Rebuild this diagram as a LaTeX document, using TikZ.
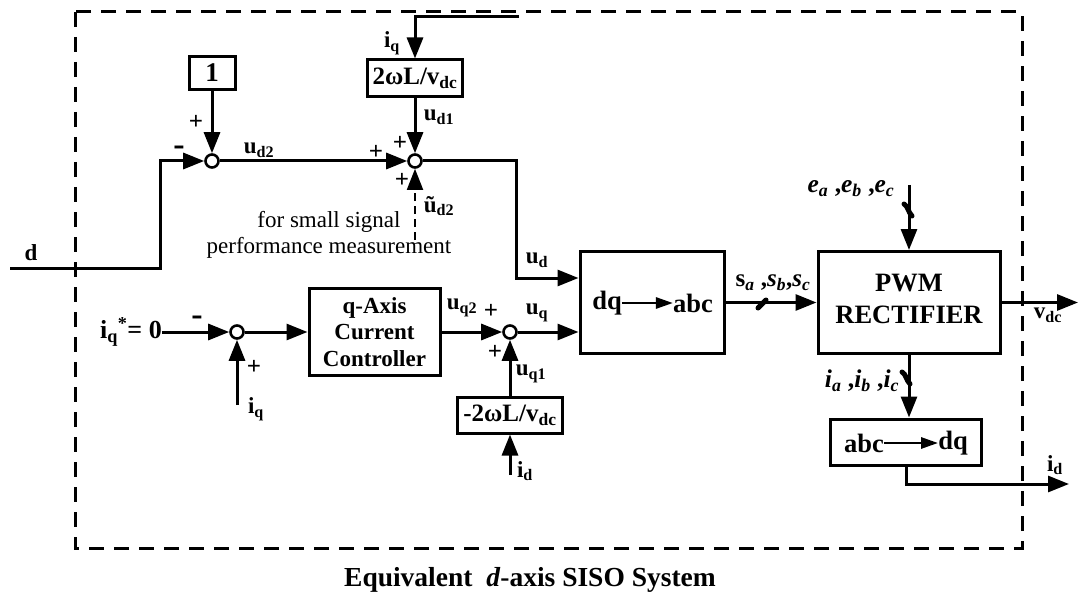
\documentclass[tikz,border=0pt]{standalone}
\usepackage{fontspec}
\setmainfont{Liberation Serif}
\usetikzlibrary{arrows.meta}
\tikzset{
 blk/.style={draw, line width=3pt, inner sep=0pt, font=\fontsize{23}{26.5}\selectfont\bfseries, align=center},
 sumc/.style={draw, circle, line width=2.6pt, minimum size=13pt, inner sep=0pt, fill=white},
 wire/.style={line width=3pt},
 arr/.style={wire, -{Triangle[length=21pt,width=16pt]}},
 arrs/.style={line width=2.8pt, -{Triangle[length=17pt,width=11pt]}},
 lbl/.style={font=\fontsize{23}{26}\selectfont\bfseries, inner sep=0pt},
 big/.style={font=\fontsize{26.5}{32}\selectfont\bfseries, inner sep=0pt, align=center},
 sgn/.style={font=\fontsize{25}{26}\selectfont\bfseries, inner sep=0pt},
 mns/.style={font=\fontsize{34}{34}\selectfont\bfseries, inner sep=0pt},
 txt/.style={font=\fontsize{23}{26}\selectfont, inner sep=0pt, align=center},
 frame/.style={line width=3pt, dash pattern=on 15pt off 10pt},
 mark3/.style={line width=5pt, line cap=round},
}
\begin{document}
\begin{tikzpicture}[x=1pt,y=-1pt]
\useasboundingbox (0,0) rectangle (1078,596);
\draw[frame] (75,12) rectangle (1022,548);

% nodes
\node[blk, minimum width=46pt, minimum height=33pt, font=\fontsize{27}{30}\selectfont\bfseries] (one) at (212,73) {1};
\node[sumc] (s1) at (212,161) {};
\node[blk, minimum width=95pt, minimum height=37pt, font=\fontsize{25}{28}\selectfont\bfseries] (k1) at (415,78.5) {2ωL/v\textsubscript{dc}};
\node[sumc] (s2) at (415,161) {};
\node[blk, minimum width=131pt, minimum height=87pt] (qcc) at (374.5,332) {q-Axis\\Current\\Controller};
\node[sumc] (s3) at (510,332) {};
\node[blk, minimum width=105pt, minimum height=36pt, font=\fontsize{25}{28}\selectfont\bfseries] (k2) at (510,415) {-2ωL/v\textsubscript{dc}};
\node[sumc] (s4) at (237,332) {};
\node[blk, minimum width=144pt, minimum height=102pt] (dqabc) at (652,302.5) {};
\node[blk, minimum width=182pt, minimum height=102pt] (pwm) at (909,302.5) {};
\node[big] (pwmt) at (909,299) {PWM\\RECTIFIER};
\node[blk, minimum width=151pt, minimum height=46pt] (abcdq) at (906,442) {};
\node[big] (t1) at (607,303) {dq};
\node[big] (t2) at (693,303) {abc};
\node[big] (t3) at (864,443) {abc};
\node[big] (t4) at (953,443) {dq};
\node[lbl, anchor=east, font=\fontsize{26}{30}\selectfont\bfseries] (iqs) at (162,332) {i\textsubscript{q}\textsuperscript{*}= 0};

\coordinate (din) at (10,268);
\coordinate (iqtop) at (519,17);
\coordinate (meas) at (415,240);
\coordinate (idin) at (510,475);
\coordinate (iqin) at (237,405);
\coordinate (ein) at (909,185);
\coordinate (vdc) at (1078,302.5);
\coordinate (idout) at (1069,484);

% connectors
\draw[arr] (din) -- ++(150,0) |- (s1);
\draw[arr] (one) -- (s1);
\draw[arr] (s1) -- (s2);
\draw[arr] (iqtop) -| (k1);
\draw[arr] (k1) -- (s2);
\draw[line width=1.8pt, dash pattern=on 8pt off 5pt, -{Triangle[length=21pt,width=16pt]}] (meas) -- (s2);
\draw[arr] (s2) -- ++(101,0) |- ([yshift=24.5pt]dqabc.west);
\draw[arr] (s3) -- (s3 -| dqabc.west);
\draw[arr] (qcc) -- (s3);
\draw[arr] (k2) -- (s3);
\draw[arr] (idin) -- (k2);
\draw[arr] (iqs) -- (s4);
\draw[arr] (iqin) -- (s4);
\draw[arr] (s4) -- (qcc);
\draw[arr] (dqabc) -- (pwm);
\draw[arr] (ein) -- (pwm);
\draw[arr] (pwm.east) -- (vdc);
\draw[arr] (pwm.south) -- (pwm.south |- abcdq.north);
\draw[arr] (abcdq.south) |- (idout);
\draw[arrs] (t1) -- (t2);
\draw[arrs] (t3) -- (t4);

% multi-phase marks
\draw[mark3] (758,308) -- (766,300);
\draw[mark3] (904,204) .. controls (908,206) and (908,212) .. (912,216);
\draw[mark3] (902,372) .. controls (906,374) and (906,380) .. (910,384);

% labels
\node[sgn] at (196,122) {+};
\node[mns] at (179,151) {-};
\node[lbl] at (259,150) {u\textsubscript{d2}};
\node[lbl] at (392,43) {i\textsubscript{q}};
\node[lbl] at (439,117) {u\textsubscript{d1}};
\node[sgn] at (376,152) {+};
\node[sgn] at (400,143) {+};
\node[sgn] at (402,180) {+};
\node[lbl] at (439,206) {\~{u}\textsubscript{d2}};
\node[txt] at (329,235) {for small signal\\performance measurement};
\node[lbl] at (537,260) {u\textsubscript{d}};
\node[lbl] at (537,313) {u\textsubscript{q}};
\node[lbl] at (462,308) {u\textsubscript{q2}};
\node[sgn] at (491,311) {+};
\node[sgn] at (495,352) {+};
\node[lbl] at (531,374) {u\textsubscript{q1}};
\node[lbl] at (525,471) {i\textsubscript{d}};
\node[mns] at (197,321) {-};
\node[sgn] at (254,367) {+};
\node[lbl] at (256,409) {i\textsubscript{q}};
\node[lbl] at (31,253) {d};
\node[lbl, font=\fontsize{25}{28}\selectfont\bfseries] at (773,283) {s\textsubscript{\textit{a}} ,\textit{s}\textsubscript{\textit{b}},\textit{s}\textsubscript{\textit{c}}};
\node[lbl, font=\fontsize{25.5}{28}\selectfont\bfseries] at (851,189) {\textit{e}\textsubscript{\textit{a}} ,\textit{e}\textsubscript{\textit{b}} ,\textit{e}\textsubscript{\textit{c}}};
\node[lbl, font=\fontsize{25.5}{28}\selectfont\bfseries] at (862,381) {\textit{i}\textsubscript{\textit{a}} ,\textit{i}\textsubscript{\textit{b}} ,\textit{i}\textsubscript{\textit{c}}};
\node[lbl] at (1048,315) {v\textsubscript{dc}};
\node[lbl] at (1055,465) {i\textsubscript{d}};
\node[lbl, font=\fontsize{27.5}{30}\selectfont\bfseries] at (530,580) {Equivalent \ \textit{d}-axis SISO System};
\end{tikzpicture}
\end{document}
